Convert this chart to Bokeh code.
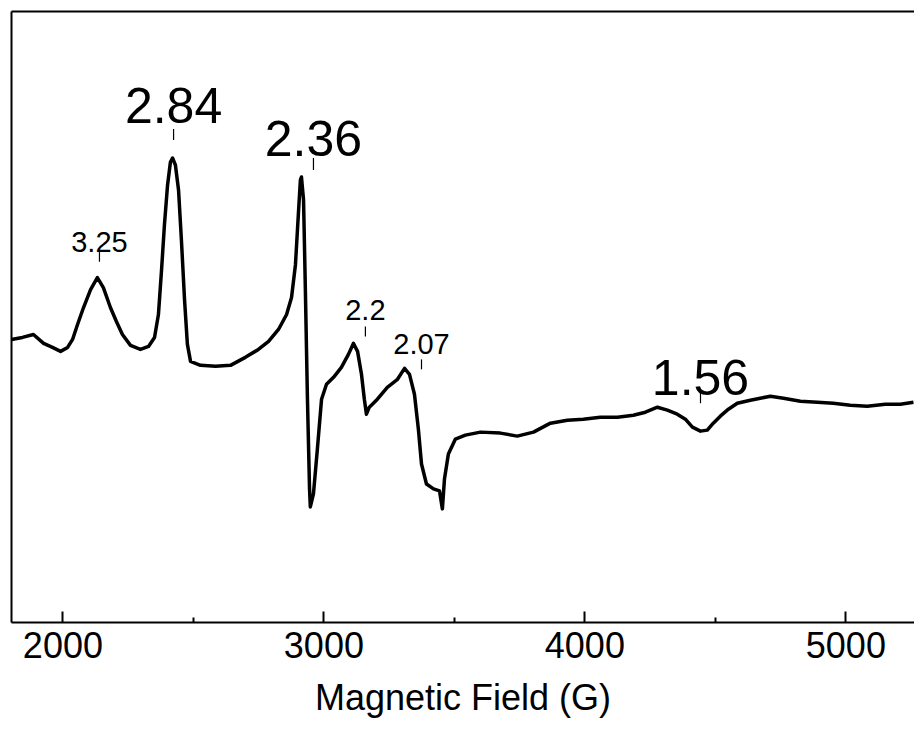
from bokeh.plotting import figure
from bokeh.models import FixedTicker, LinearAxis, Range1d, ColumnDataSource, Title
from bokeh.core.properties import value
from bokeh.embed import file_html
from bokeh.resources import INLINE

# EPR spectrum: magnetic field (G) vs derivative signal (a.u.)
field = [1803, 1845, 1887, 1926, 1960, 1991, 2018, 2037, 2056, 2079, 2106, 2132, 2155, 2182,
         2205, 2228, 2259, 2297, 2328, 2351, 2366, 2378, 2389, 2401, 2412, 2420, 2431, 2443,
         2454, 2466, 2477, 2489, 2527, 2585, 2642, 2699, 2749, 2788, 2826, 2857, 2876, 2891,
         2902, 2910, 2914, 2922, 2929, 2937, 2945, 2948, 2960, 2975, 2991, 3010, 3037, 3067,
         3094, 3113, 3129, 3144, 3155, 3163, 3174, 3205, 3243, 3282, 3309, 3328, 3347, 3362,
         3374, 3393, 3420, 3443, 3454, 3462, 3477, 3504, 3542, 3600, 3676, 3741, 3803, 3868,
         3933, 3994, 4059, 4125, 4186, 4232, 4278, 4316, 4354, 4385, 4412, 4443, 4469, 4492,
         4519, 4550, 4584, 4634, 4672, 4711, 4761, 4826, 4891, 4952, 5017, 5082, 5151, 5209,
         5259]
signal = [90, 92, 95, 86, 82, 78, 82, 90, 105, 122, 140, 152, 142, 122,
          108, 95, 84, 80, 83, 92, 115, 160, 205, 245, 268, 272, 265, 240,
          190, 130, 85, 68, 64, 63, 64, 72, 80, 88, 100, 115, 132, 165,
          215, 250, 253, 230, 140, 30, -60, -78, -65, -20, 30, 45, 52, 62,
          75, 86, 78, 55, 30, 15, 22, 30, 42, 50, 61, 55, 35, 0,
          -35, -55, -60, -62, -80, -50, -25, -10, -6, -3, -4, -7, -3, 6,
          9, 10, 12, 12, 14, 17, 22, 19, 15, 10, 2, -2, -1, 6,
          13, 20, 26, 29, 31, 33, 31, 28, 27, 26, 24, 23, 25, 25,
          27]

# g-value markers
g_labels = ["3.25", "2.84", "2.36", "2.2", "2.07", "1.56"]
g_fields = [2140, 2424, 2960, 3159, 3374, 4443]
g_big = [False, True, True, False, False, True]
# annotation placement (a.u.)
label_base = [188, 325, 292, 120, 85, 52]
tick_top = [179, 301, 272, 103, 70, 37]
tick_bot = [168, 290, 260, 93, 60, 26]

x_ticks = [2000, 3000, 4000, 5000]
x_minor = [2500, 3500, 4500]
x_title = "Magnetic Field (G)"

FONT = "Liberation Sans"

p = figure(width=914, height=731, output_backend="svg", toolbar_location=None,
           x_range=Range1d(1803, 5263), y_range=Range1d(-194, 419),
           min_border_left=11, min_border_right=0, min_border_top=11, min_border_bottom=0,
           background_fill_color="white", border_fill_color="white")
p.outline_line_color = None
p.grid.visible = False

# bottom axis
xa = p.xaxis[0]
xa.ticker = FixedTicker(ticks=x_ticks, minor_ticks=x_minor)
xa.axis_line_width = 2
xa.axis_line_color = "black"
xa.major_tick_in = 11
xa.major_tick_out = 0
xa.minor_tick_in = 5
xa.minor_tick_out = 0
xa.major_tick_line_width = 2
xa.minor_tick_line_width = 2
xa.major_label_text_font = FONT
xa.major_label_text_font_size = "36px"
xa.major_label_text_color = "black"
xa.major_label_standoff = 9

# left axis: line only
ya = p.yaxis[0]
ya.ticker = FixedTicker(ticks=[])
ya.axis_line_width = 2
ya.major_tick_line_color = None
ya.minor_tick_line_color = None
ya.major_label_text_font_size = "0px"
ya.major_label_standoff = 0

# top line
top = LinearAxis(ticker=FixedTicker(ticks=[]), axis_line_width=2,
                 major_tick_line_color=None, minor_tick_line_color=None,
                 major_label_text_font_size="0px", major_label_standoff=0)
p.add_layout(top, "above")

p.line(field, signal, line_color="black", line_width=3.5, line_join="round")

big = ColumnDataSource(dict(
    x=[f for f, b in zip(g_fields, g_big) if b],
    y=[v for v, b in zip(label_base, g_big) if b],
    t=[t for t, b in zip(g_labels, g_big) if b]))
small = ColumnDataSource(dict(
    x=[f for f, b in zip(g_fields, g_big) if not b],
    y=[v for v, b in zip(label_base, g_big) if not b],
    t=[t for t, b in zip(g_labels, g_big) if not b]))

p.text(x="x", y="y", text="t", source=big, text_font=value(FONT), text_font_size="50px",
       text_align="center", text_baseline="alphabetic", text_color="black")
p.text(x="x", y="y", text="t", source=small, text_font=value(FONT), text_font_size="29px",
       text_align="center", text_baseline="alphabetic", text_color="black")
p.segment(x0=g_fields, y0=tick_bot, x1=g_fields, y1=tick_top, line_color="black", line_width=1.2)

# x-axis title (centred as in the original, whose frame extends past the crop)
p.add_layout(Title(text=x_title, align="center", offset=30, standoff=28,
                   text_font=FONT, text_font_size="36px", text_font_style="normal",
                   text_color="black"), "below")

open("out.html", "w").write(file_html(p, INLINE))
